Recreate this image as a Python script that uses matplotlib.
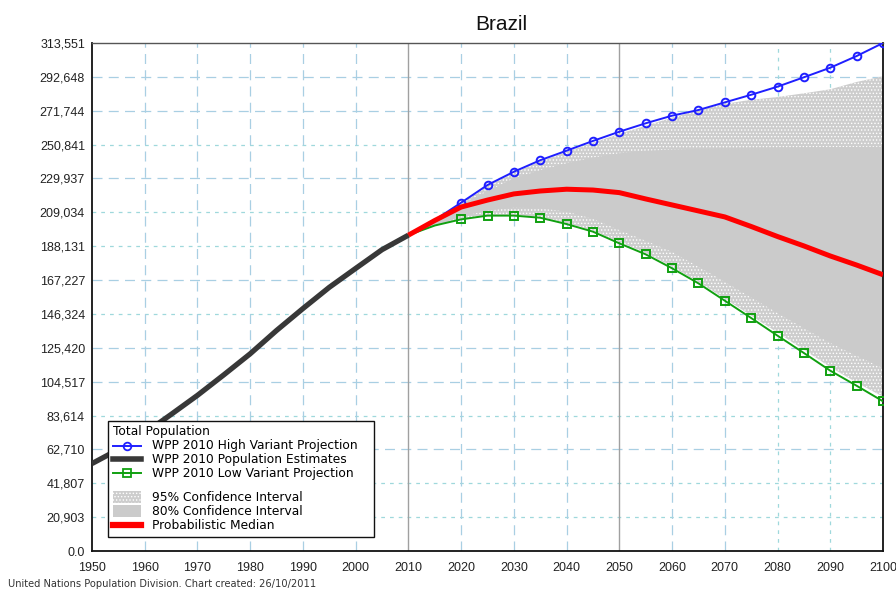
import matplotlib

matplotlib.use("Agg")
import matplotlib.pyplot as plt
from matplotlib.legend_handler import HandlerPatch
from matplotlib.lines import Line2D
from matplotlib.patches import Patch, Rectangle

plt.rcParams["font.family"] = ["Liberation Sans", "DejaVu Sans"]
plt.rcParams["hatch.linewidth"] = 0.6

# 人口估计（千人）
YEARS_EST = [1950, 1955, 1960, 1965, 1970, 1975, 1980, 1985, 1990, 1995, 2000, 2005, 2010]
POP_EST = [53975, 62656, 72758, 84298, 96078, 108742, 121740, 136124, 149650, 162755,
           174425, 185987, 194946]

# 预测（2010-2100，每5年）
YEARS_PROJ = [2010, 2015, 2020, 2025, 2030, 2035, 2040, 2045, 2050, 2055,
              2060, 2065, 2070, 2075, 2080, 2085, 2090, 2095, 2100]
HIGH = [194946, 204300, 215000, 225900, 234100, 241200, 247100, 253100, 258800, 264000,
        268700, 272200, 276900, 281600, 286600, 292400, 298300, 305500, 313551]
LOW = [194946, 200900, 204700, 207000, 207000, 205700, 201800, 197100, 189900, 183100,
       174500, 165200, 154500, 143800, 132900, 122200, 111300, 102000, 92400]
MEDIAN = [194946, 204000, 212300, 216600, 220400, 222200, 223300, 222800, 221200, 217300,
          213600, 209900, 206200, 200300, 194100, 188300, 182100, 176500, 170500]
PI80_HI = [194946, 203800, 214000, 222000, 230000, 235000, 239300, 242800, 245500, 247000,
           247800, 248200, 248600, 248900, 249100, 249200, 249300, 249400, 249500]
PI80_LO = [194946, 200500, 206500, 210000, 212000, 211500, 209500, 205000, 198100, 191500,
           184700, 175500, 166200, 156500, 146900, 137500, 128400, 120500, 112800]
PI95_HI = [194946, 204200, 214800, 225500, 233500, 240500, 246500, 252000, 257500, 262500,
           267500, 272000, 276000, 278500, 280200, 282500, 285000, 289500, 293000]
PI95_LO = [194946, 201000, 205000, 207300, 207400, 206200, 202400, 197800, 190800, 184000,
           175500, 166000, 155800, 145300, 134800, 124200, 113500, 104000, 95200]

Y_MAX = 313551
YTICK_LABELS = ["0.0", "20,903", "41,807", "62,710", "83,614", "104,517", "125,420",
                "146,324", "167,227", "188,131", "209,034", "229,937", "250,841",
                "271,744", "292,648", "313,551"]
XTICKS = list(range(1950, 2101, 10))

GRID_BLUE = "#a9cfe3"
GRID_CYAN = "#9fd8dc"
SPECKLE = "#cdcdcd"
GRAY80 = "#cbcbcb"


def tall_patch(legend, orig_handle, xdescent, ydescent, width, height, fontsize):
    # 图例色块比行高略高一些
    extra = 0.2 * fontsize
    return Rectangle((-xdescent, -ydescent - extra), width, height + 2 * extra)


def main():
    fig = plt.figure(figsize=(8.96, 5.89), dpi=100)
    ax = fig.add_axes([92 / 896, 1 - 551 / 589, (883 - 92) / 896, (551 - 43) / 589])

    yticks = [Y_MAX * i / 15 for i in range(16)]

    # 网格
    dotted_rows = {1, 2, 4, 7, 9, 10, 12}
    for i, y in enumerate(yticks[1:-1], start=1):
        if i in dotted_rows:
            ax.axhline(y, color=GRID_CYAN, lw=0.9, ls=(0, (3, 4)), zorder=0)
        else:
            ax.axhline(y, color=GRID_BLUE, lw=0.9, ls=(0, (8, 5)), zorder=0)
    for x in XTICKS[1:-1]:
        if x in (2010, 2050):
            ax.axvline(x, color="#a0a0a0", lw=1.0, zorder=0.5)
        elif x in (2080, 2090):
            ax.axvline(x, color=GRID_CYAN, lw=0.9, ls=(0, (3, 4)), zorder=0)
        else:
            ax.axvline(x, color=GRID_BLUE, lw=0.9, ls=(0, (8, 5)), zorder=0)

    # 置信区间
    ax.fill_between(YEARS_PROJ, PI95_LO, PI95_HI, facecolor=SPECKLE, edgecolor="white",
                    hatch=".....", linewidth=0, zorder=1)
    ax.fill_between(YEARS_PROJ, PI80_LO, PI80_HI, facecolor=GRAY80, edgecolor="none",
                    linewidth=0, zorder=2)

    # 线
    marks = list(range(2, len(YEARS_PROJ)))
    ax.plot(YEARS_PROJ, HIGH, color="#1f1fff", lw=1.4, marker="o", ms=5.5,
            mfc="none", mew=1.4, markevery=marks, zorder=4)
    ax.plot(YEARS_PROJ, LOW, color="#10a010", lw=1.4, marker="s", ms=5.5,
            mfc="none", mew=1.4, markevery=marks, zorder=4)
    ax.plot(YEARS_EST, POP_EST, color="#383838", lw=3.8, solid_capstyle="butt", zorder=5)
    ax.plot(YEARS_PROJ, MEDIAN, color="#ff0000", lw=3.6, solid_capstyle="butt", zorder=5)

    ax.set_xlim(1950, 2100)
    ax.set_ylim(0, Y_MAX)
    ax.set_xticks(XTICKS)
    ax.set_xticklabels([str(x) for x in XTICKS], fontsize=9, color="#222222")
    ax.set_yticks(yticks)
    ax.set_yticklabels(YTICK_LABELS, fontsize=9, color="#222222")
    ax.tick_params(length=0, pad=5)
    ax.tick_params(axis="x", pad=8)
    for side in ("left", "bottom", "right"):
        ax.spines[side].set_color("#111111")
        ax.spines[side].set_linewidth(1.3)
    ax.spines["top"].set_color("#555555")
    ax.spines["top"].set_linewidth(1.0)

    # 图例
    p95 = Patch(facecolor=SPECKLE, edgecolor="white", hatch=".....", lw=0)
    p80 = Patch(facecolor=GRAY80, edgecolor="none", lw=0)
    handles = [
        Line2D([], [], color="#1f1fff", lw=1.4, marker="o", ms=5.5, mfc="none", mew=1.3),
        Line2D([], [], color="#383838", lw=4),
        Line2D([], [], color="#10a010", lw=1.4, marker="s", ms=5.5, mfc="none", mew=1.3),
        Line2D([], [], color="none"),
        p95,
        p80,
        Line2D([], [], color="#ff0000", lw=4.5),
    ]
    labels = [
        "WPP 2010 High Variant Projection   ",
        "WPP 2010 Population Estimates",
        "WPP 2010 Low Variant Projection",
        " ",
        "95% Confidence Interval",
        "80% Confidence Interval",
        "Probabilistic Median",
    ]
    leg = ax.legend(handles, labels, title="Total Population", loc="lower left",
                    bbox_to_anchor=(16 / 791, 14 / 508),
                    prop={"family": "DejaVu Sans", "size": 8.8},
                    title_fontproperties={"family": "DejaVu Sans", "size": 8.8},
                    alignment="left", frameon=True, fancybox=False, framealpha=1,
                    edgecolor="#111111", borderaxespad=0, labelspacing=0.08,
                    handlelength=2.3, handleheight=0.5, handletextpad=0.9,
                    borderpad=0.4,
                    handler_map={p95: HandlerPatch(patch_func=tall_patch),
                                 p80: HandlerPatch(patch_func=tall_patch)})
    leg.get_texts()[3].set_fontsize(3)
    leg.get_frame().set_linewidth(1.0)
    leg.set_zorder(10)

    fig.text(501 / 896, 1 - 24 / 589, "Brazil", fontsize=15, ha="center", va="center",
             color="#111111")
    fig.text(8 / 896, 1 - 584 / 589, "United Nations Population Division. Chart created: 26/10/2011",
             fontsize=7.1, family="DejaVu Sans", ha="left", va="center", color="#333333")

    fig.savefig("out.png", dpi=100)


if __name__ == "__main__":
    main()
